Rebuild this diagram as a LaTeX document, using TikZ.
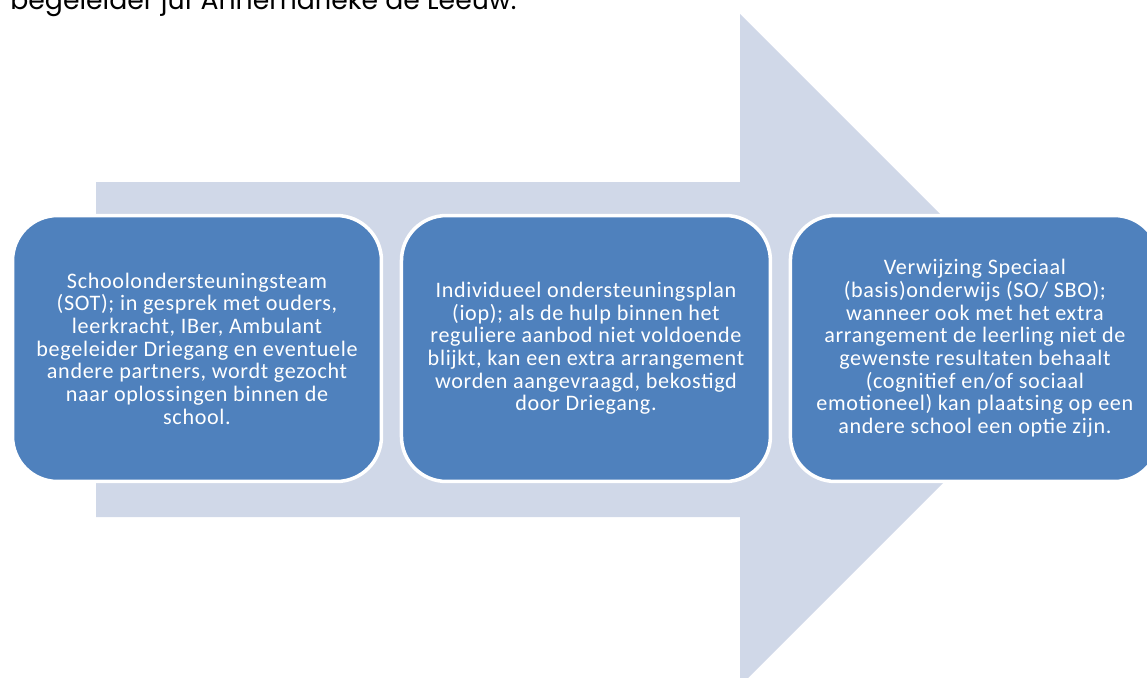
\documentclass[tikz,border=0pt]{standalone}
\usepackage{fontspec}
\setmainfont{Carlito}
\newfontfamily\gothicfont{Poppins}
\usetikzlibrary{positioning}
\definecolor{boxblue}{HTML}{4F81BD}
\definecolor{arrowgray}{HTML}{D0D8E8}

\begin{document}
\begin{tikzpicture}[x=0.02cm,y=-0.02cm,
	stap/.style={rectangle, rounded corners=0.9cm, fill=boxblue, draw=white, line width=2pt,
		minimum width=7.38cm, minimum height=5.32cm, inner sep=0pt, align=center,
		text=white, font=\addfontfeature{LetterSpace=3}\fontsize{12.6}{12.9}\selectfont}]
		\useasboundingbox (0,0) rectangle (1147,677);
		\clip (0,0) rectangle (1147,677);
		
		% heading, cut off at the top
		\node[anchor=base west, inner sep=0pt, font=\gothicfont\fontsize{15.2}{17}\selectfont] (kop) at (10,9) {begeleider juf Annemarieke de Leeuw.};
		
		% big arrow behind the steps
		\fill[arrowgray] (96,182) -- (740,182) -- (740,14) -- (1076,350) -- (740,686) -- (740,517) -- (96,517) -- cycle;
		
		% steps
		\node[stap] (sot) at (197,348.5) {Schoolondersteuningsteam\\(SOT); in gesprek met ouders,\\leerkracht, IBer, Ambulant\\begeleider Driegang en eventuele\\andere partners, wordt gezocht\\naar oplossingen binnen de\\school.};
		\node[stap, right=0.33cm of sot] (iop) {Individueel ondersteuningsplan\\(iop); als de hulp binnen het\\reguliere aanbod niet voldoende\\blijkt, kan een extra arrangement\\worden aangevraagd, bekostigd\\door Driegang.};
		\node[stap, right=0.33cm of iop] (verwijzing) {Verwijzing Speciaal\\(basis)onderwijs (SO/ SBO);\\wanneer ook met het extra\\arrangement de leerling niet de\\gewenste resultaten behaalt\\(cognitief en/of sociaal\\emotioneel) kan plaatsing op een\\andere school een optie zijn.};
\end{tikzpicture}
\end{document}
